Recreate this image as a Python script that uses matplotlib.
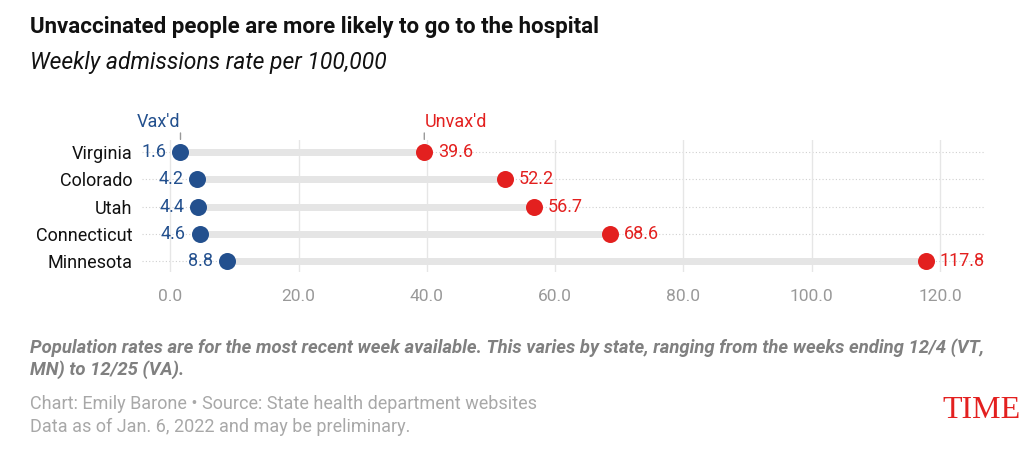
from matplotlib import pyplot as plt

states = ['Virginia', 'Colorado', 'Utah', 'Connecticut', 'Minnesota']
vaxd = [1.6, 4.2, 4.4, 4.6, 8.8]
unvaxd = [39.6, 52.2, 56.7, 68.6, 117.8]
xticks = [0, 20, 40, 60, 80, 100, 120]

blue = '#23508e'
red = '#e3201f'

plt.rcParams['font.family'] = ['Roboto', 'DejaVu Sans']

fig = plt.figure(figsize=(10.23, 4.76), dpi=100)
ax = fig.add_axes([142 / 1023, 204 / 476, 843 / 1023, 132 / 476])

ys = list(range(len(states)))

# dotted row guides + vertical grid
for y in ys:
    ax.axhline(y, color='#d0d0d0', linestyle=(0, (1, 2)), linewidth=0.8, zorder=0)
for x in xticks:
    ax.axvline(x, color='#e6e6e6', linewidth=1, zorder=0)

# bars between the two values
for y, a, b in zip(ys, vaxd, unvaxd):
    ax.plot([a, b], [y, y], color='#e5e5e5', linewidth=5, solid_capstyle='butt', zorder=1)

ax.scatter(vaxd, ys, s=150, color=blue, zorder=3, linewidths=0)
ax.scatter(unvaxd, ys, s=150, color=red, zorder=3, linewidths=0)

for y, a, b in zip(ys, vaxd, unvaxd):
    ax.annotate(f'{a:.1f}', (a, y), xytext=(-10, 0), textcoords='offset points',
                ha='right', va='center', color=blue, fontsize=13)
    ax.annotate(f'{b:.1f}', (b, y), xytext=(10, 0), textcoords='offset points',
                ha='left', va='center', color=red, fontsize=13)

# series labels with leader lines
ax.annotate("Vax'd", (vaxd[0], -0.4), xytext=(0, 7), textcoords='offset points',
            ha='right', va='bottom', color=blue, fontsize=13,
            annotation_clip=False)
ax.annotate('', (vaxd[0], -0.36), xytext=(vaxd[0], -0.8), annotation_clip=False,
            arrowprops=dict(arrowstyle='-', color='#999999', lw=1))
ax.annotate("Unvax'd", (unvaxd[0], -0.4), xytext=(0, 7), textcoords='offset points',
            ha='left', va='bottom', color=red, fontsize=13,
            annotation_clip=False)
ax.annotate('', (unvaxd[0], -0.36), xytext=(unvaxd[0], -0.8), annotation_clip=False,
            arrowprops=dict(arrowstyle='-', color='#999999', lw=1))

ax.set_xlim(-4.4, 127)
ax.set_ylim(4.4, -0.44)
ax.set_xticks(xticks)
ax.set_xticklabels([f'{x:.1f}' for x in xticks], color='#999999', fontsize=12.5)
ax.set_yticks(ys)
ax.set_yticklabels(states, fontsize=13, color='#111111')
ax.tick_params(axis='both', length=0)
ax.tick_params(axis='x', pad=12)
ax.tick_params(axis='y', pad=7)
for s in ax.spines.values():
    s.set_visible(False)

fig.text(30 / 1023, 1 - 27 / 476, 'Unvaccinated people are more likely to go to the hospital',
         fontsize=16, fontweight='bold', color='#111111', va='center')
fig.text(30 / 1023, 1 - 63 / 476, 'Weekly admissions rate per 100,000',
         fontsize=16.5, style='italic', color='#111111', va='center')

fig.text(30 / 1023, 1 - 348 / 476,
         'Population rates are for the most recent week available. This varies by state, ranging from the weeks ending 12/4 (VT,',
         fontsize=13.3, style='italic', fontweight='bold', color='#808080', va='center')
fig.text(30 / 1023, 1 - 370 / 476, 'MN) to 12/25 (VA).',
         fontsize=13.3, style='italic', fontweight='bold', color='#808080', va='center')
fig.text(30 / 1023, 1 - 404 / 476, 'Chart: Emily Barone \u2022 Source: State health department websites',
         fontsize=13, color='#a8a8a8', va='center')
fig.text(30 / 1023, 1 - 427 / 476, 'Data as of Jan. 6, 2022 and may be preliminary.',
         fontsize=13, color='#a8a8a8', va='center')
fig.text(1021 / 1023, 1 - 411 / 476, 'TIME', family='Liberation Serif',
         fontsize=23, color='#e3201f', ha='right', va='center')

fig.savefig('out.png', dpi=100)
